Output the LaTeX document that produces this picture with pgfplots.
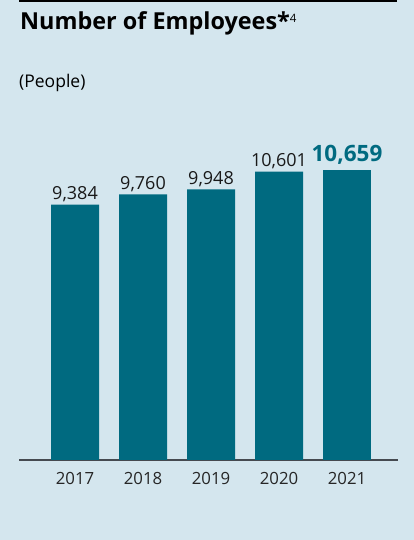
\documentclass[border=0pt]{standalone}
\usepackage{pgfplots}
\pgfplotsset{compat=1.18}
\usepackage{fontspec}
\setmainfont{Open Sans}
\definecolor{bgc}{HTML}{D4E6EE}
\definecolor{barc}{HTML}{006A80}
\definecolor{axc}{HTML}{454A50}
\begin{document}
\begin{tikzpicture}[x=1pt,y=1pt]
\fill[bgc] (0,0) rectangle (414,540);
\draw[black, line width=2pt] (19,539) -- (397,539);
\node[anchor=base west, inner sep=0pt] at (20,510) {\fontsize{23.4}{27}\selectfont\bfseries Number of Employees*\raisebox{7pt}{\fontsize{11.5}{13}\selectfont\mdseries 4}};
\node[anchor=base west, inner sep=0pt] at (19,452) {\fontsize{17.5}{20}\selectfont (People)};
\begin{axis}[
  at={(75pt,80pt)}, anchor=origin,
  scale only axis, width=379pt, height=326.5pt,
  xmin=-0.8235, xmax=4.75, ymin=0, ymax=12000,
  hide y axis,
  axis x line*=bottom,
  x axis line style={draw=axc, line width=1.6pt},
  xtick={0,1,2,3,4},
  xticklabels={2017,2018,2019,2020,2021},
  major tick length=0pt,
  xticklabel style={anchor=base, yshift=-25pt, font=\fontsize{16.8}{19}\selectfont, text=black!85},
  /pgf/number format/assume math mode=true,
  ybar, bar width=48pt, bar shift=0pt,
  clip=false,
]
\addplot[fill=barc, draw=none,
  nodes near coords={\pgfmathprintnumber[1000 sep={,}]{\pgfplotspointmeta}},
  nodes near coords style={anchor=base, yshift=5pt, font=\fontsize{18}{21}\selectfont, text=black!90, inner sep=0pt}]
  coordinates {(0,9384) (1,9760) (2,9948) (3,10601)};
\addplot[fill=barc, draw=none,
  nodes near coords={\pgfmathprintnumber[1000 sep={,}]{\pgfplotspointmeta}},
  nodes near coords style={anchor=base, yshift=8pt, font=\fontsize{22.5}{25}\selectfont\bfseries, text=barc, inner sep=0pt}]
  coordinates {(4,10659)};
\end{axis}
\end{tikzpicture}
\end{document}
